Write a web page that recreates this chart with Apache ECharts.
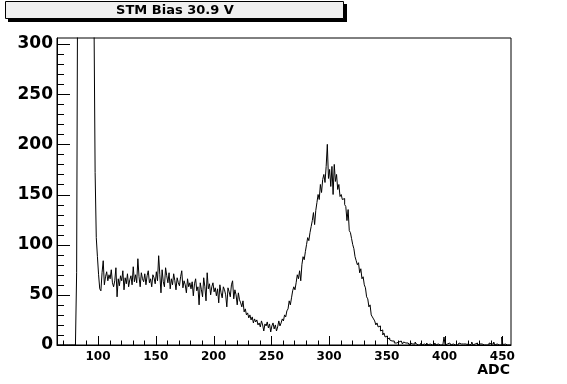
<!DOCTYPE html>
<html><head><meta charset="utf-8">
<script src="https://cdn.jsdelivr.net/npm/echarts@6/dist/echarts.min.js"></script>
<style>html,body{margin:0;padding:0;background:#fff}#c{width:567px;height:384px}</style>
</head><body><div id="c"></div>
<script>
const chartTitle = 'STM Bias 30.9 V';
const xAxisTitle = 'ADC';
const firstBinADC = 65;   // centre of first 1-ADC-wide bin
const binWidth = 1;
const xMin = 64.5, xMax = 457.5;
const yMin = 0, yMax = 306;

// counts per ADC bin, 10 per line, starting at ADC 65
const counts = [
  0,0,0,0,0,0,0,0,0,0,                 // 65-74
  0,0,0,0,0,0,2,72,420,1500,           // 75-84
  3200,5200,6800,7400,6900,5800,4400,3100,2000,1200, // 85-94
  700,450,330,172,107,88,70,56,54,72,  // 95-104
  84,60,68,73,64,70,66,75,62,58,       // 105-114
  64,77,48,66,59,69,64,74,55,67,       // 115-124
  61,71,58,65,69,60,78,63,70,62,       // 125-134
  86,68,58,72,66,63,71,60,69,74,       // 135-144
  62,66,58,70,67,61,73,64,89,70,       // 145-154
  52,75,63,58,77,69,62,72,56,66,       // 155-164
  60,71,64,55,67,62,59,68,74,57,       // 165-174
  64,60,52,66,58,62,56,63,49,61,       // 175-184
  66,54,58,40,62,55,48,67,58,44,       // 185-194
  72,56,61,50,58,62,53,57,49,56,       // 195-204
  42,60,52,47,58,55,50,38,57,53,       // 205-214
  48,60,64,46,55,50,40,52,45,42,       // 215-224
  38,44,33,36,30,32,27,30,25,28,       // 225-234
  22,26,23,25,20,22,18,24,20,14,       // 235-244
  21,19,23,17,21,13,19,22,16,20,       // 245-254
  14,18,24,19,22,26,24,30,28,34,       // 255-264
  36,44,40,47,54,58,55,62,70,66,       // 265-274
  74,64,80,88,85,93,100,107,104,112,   // 275-284
  118,124,132,120,134,142,150,145,160,152, // 285-294
  165,170,162,178,200,166,175,158,178,150, // 295-304
  180,163,170,155,160,148,150,145,146,140, // 305-314
  138,124,135,114,112,106,100,96,88,84,    // 315-324
  80,82,72,76,66,68,60,57,48,46,       // 325-334
  38,40,30,28,26,24,20,22,18,19,       // 335-344
  14,15,10,12,8,9,6,7,5,4,             // 345-354
  3,4,2,2,1,3,2,4,3,1,                 // 355-364
  3,2,1,2,1,0,2,1,0,1,                 // 365-374
  3,1,0,1,0,2,0,1,0,0,                 // 375-384
  2,0,1,0,0,1,0,2,0,1,                 // 385-394
  0,0,1,0,0,8,0,1,0,2,                 // 395-404
  1,0,1,2,0,1,0,0,2,1,                 // 405-414
  0,1,0,1,0,0,2,0,1,3,                 // 415-424
  0,1,0,2,0,1,0,1,2,0,                 // 425-434
  1,0,1,0,2,1,0,1,3,0,                 // 435-444
  1,2,0,1,0,8,0,1,0,0,                 // 445-454
  0,0,0                                // 455-457
];

const xTickLabels = [100,150,200,250,300,350,400,450];
const xMinorTicks = [70,80,90,110,120,130,140,160,170,180,190,210,220,230,240,260,270,280,290,310,320,330,340,360,370,380,390,410,420,430,440];
const yTickLabels = [0,50,100,150,200,250,300];
const yMinorTicks = [10,20,30,40,60,70,80,90,110,120,130,140,160,170,180,190,210,220,230,240,260,270,280,290];

// step outline: left edge of each bin, plus closing right edge
const pts = counts.map((c, i) => [firstBinADC - binWidth / 2 + i * binWidth, c]);
pts.push([firstBinADC - binWidth / 2 + counts.length * binWidth, counts[counts.length - 1]]);

const FONT = 'DejaVu Sans';

// tick marks drawn inward from the axes through the library's own coordinate system
function tickSeries(values, isX, len) {
  return {
    type: 'custom', xAxisIndex: 0, yAxisIndex: 0, silent: true, clip: false, z: 5,
    data: values.map(v => isX ? [v, yMin] : [xMin, v]),
    renderItem: function (params, api) {
      const p = api.coord([api.value(0), api.value(1)]);
      if (isX) {
        const x = Math.round(p[0]) + 0.5;
        return {type: 'line', shape: {x1: x, y1: p[1], x2: x, y2: p[1] - len}, style: {stroke: '#000', lineWidth: 1}};
      } else {
        const y = Math.round(p[1]) + 0.5;
        return {type: 'line', shape: {x1: p[0], y1: y, x2: p[0] + len, y2: y}, style: {stroke: '#000', lineWidth: 1}};
      }
    }
  };
}

const chart = echarts.init(document.getElementById('c'), null, {renderer: 'canvas'});
chart.setOption({
  animation: false,
  grid: {left: 57, right: 56, top: 38, bottom: 39, show: true, borderColor: '#000', borderWidth: 1,
         containLabel: false, outerBoundsMode: 'none'},
  xAxis: {type: 'value', min: xMin, max: xMax, position: 'bottom',
     axisLine: {show: true, lineStyle: {color: '#000', width: 1}},
     axisTick: {show: false},
     axisLabel: {show: true, customValues: xTickLabels, margin: 6, fontFamily: FONT, fontWeight: 'bold', fontSize: 12, color: '#000'},
     splitLine: {show: false}},
  yAxis: {type: 'value', min: yMin, max: yMax, position: 'left',
     axisLine: {show: true, lineStyle: {color: '#000', width: 1}},
     axisTick: {show: false},
     axisLabel: {show: true, customValues: yTickLabels, margin: 4, fontFamily: FONT, fontWeight: 'bold', fontSize: 17, color: '#000'},
     splitLine: {show: false}},
  series: [
    {type: 'line', xAxisIndex: 0, yAxisIndex: 0, step: 'end', data: pts,
     showSymbol: false, symbol: 'none', clip: true, z: 3,
     lineStyle: {color: '#000', width: 1}},
    tickSeries(xTickLabels, true, 9),
    tickSeries(xMinorTicks, true, 4.5),
    tickSeries(yTickLabels, false, 13),
    tickSeries(yMinorTicks, false, 7)
  ],
  graphic: [
    {type: 'rect', silent: true, shape: {x: 8, y: 4, width: 339, height: 18}, style: {fill: '#000'}},
    {type: 'rect', silent: true, shape: {x: 5.5, y: 1.5, width: 338, height: 17}, style: {fill: '#f0f0f0', stroke: '#000', lineWidth: 1}},
    {type: 'text', silent: true, x: 175, y: 11, style: {text: chartTitle, fontFamily: FONT, fontWeight: 'bold', fontSize: 13,
      fill: '#000', align: 'center', verticalAlign: 'middle'}},
    {type: 'text', silent: true, x: 510, y: 370, style: {text: xAxisTitle, fontFamily: FONT, fontWeight: 'bold', fontSize: 14,
      fill: '#000', align: 'right', verticalAlign: 'middle'}}
  ]
});
</script></body></html>
